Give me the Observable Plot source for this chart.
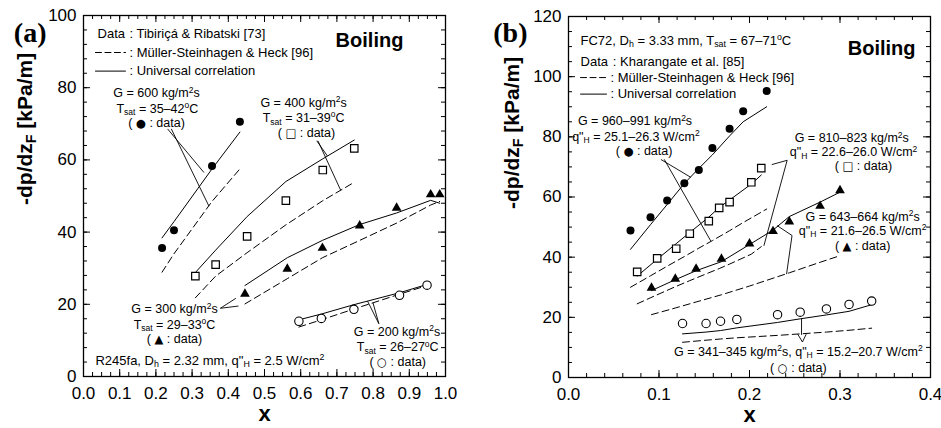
<!DOCTYPE html>
<html>
<head>
<meta charset="utf-8">
<script src="https://cdn.jsdelivr.net/npm/d3@7"></script>
<script src="https://cdn.jsdelivr.net/npm/@observablehq/plot@0.6"></script>
<style>
html,body{margin:0;padding:0;background:#fff;}
#wrap{display:flex;width:941px;height:428px;overflow:hidden;}
#wrap svg{flex:none;display:block;}
</style>
</head>
<body>
<div id="wrap"></div>
<script>
// ---------------- DATA: panel (a) R245fa ----------------
const A_ticksX = [0, 0.1, 0.2, 0.3, 0.4, 0.5, 0.6, 0.7, 0.8, 0.9, 1.0];
const A_ticksY = [0, 20, 40, 60, 80, 100];

const A_x600    = [0.217, 0.25, 0.355, 0.432];
const A_data600 = [35.6, 40.5, 58.3, 70.6];
const A_univ600 = [38.4, 42.9, 57.5, 67.7];
const A_msh600  = [28.9, 34.0, 48.5, 57.5];

const A_x400    = [0.309, 0.365, 0.452, 0.559, 0.661, 0.748];
const A_data400 = [27.8, 31.0, 38.8, 48.7, 57.2, 63.2];
const A_univ400 = [28.8, 35.0, 44.3, 54.0, 60.3, 65.5];
const A_msh400  = [21.8, 27.8, 34.3, 42.0, 48.7, 53.8];

const A_x300    = [0.446, 0.563, 0.66, 0.763, 0.865, 0.959, 0.984];
const A_data300 = [22.9, 29.8, 35.6, 41.8, 46.7, 50.4, 50.4];
const A_univ300 = [25.2, 32.9, 37.7, 42.1, 45.3, 48.8, 48.0];
const A_msh300  = [20.1, 27.1, 32.9, 37.7, 42.5, 47.5, 48.5];

const A_x200    = [0.595, 0.657, 0.747, 0.873, 0.949];
const A_data200 = [15.3, 16.1, 18.6, 22.5, 25.3];
const A_univ200 = [15.7, 17.3, 19.9, 23.2, 25.5];
const A_msh200  = [13.7, 15.7, 18.7, 22.8, 25.2];

const A_leaders = [
  [[0.233, 68.5], [0.332, 56.6]],
  [[0.243, 68.5], [0.346, 47.3]],
  [[0.645, 65.2], [0.673, 61.2]],
  [[0.648, 65.2], [0.71, 51.7]],
  [[0.42, 21.6], [0.378, 18.9], [0.427, 19.5]],
  [[0.785, 20.8], [0.816, 14.6], [0.80, 20.3]]
];

// ---------------- DATA: panel (b) FC72 ----------------
const B_ticksX = [0, 0.1, 0.2, 0.3, 0.4];
const B_ticksY = [0, 20, 40, 60, 80, 100, 120];

const B_x960    = [0.0685, 0.0906, 0.109, 0.128, 0.144, 0.159, 0.178, 0.193, 0.219];
const B_data960 = [48.9, 53.3, 58.8, 64.6, 69.0, 76.3, 82.7, 88.5, 95.2];
const B_univ960 = [42.6, 50.8, 57.5, 64.5, 69.5, 74.0, 80.3, 85.0, 90.0];
const B_msh960  = [30.0, 33.8, 37.0, 40.2, 43.0, 45.5, 48.8, 51.5, 56.0];

const B_x810    = [0.0759, 0.098, 0.119, 0.134, 0.155, 0.1665, 0.178, 0.202, 0.213];
const B_data810 = [35.1, 39.6, 42.8, 47.8, 52.0, 56.4, 58.3, 64.9, 69.6];
const B_univ810 = [33.7, 39.3, 44.5, 48.2, 53.3, 56.5, 59.0, 64.3, 67.3];
const B_msh810  = [24.5, 27.5, 30.3, 32.2, 34.8, 36.2, 37.7, 41.0, 43.5];

const B_x643    = [0.0917, 0.118, 0.141, 0.169, 0.20, 0.226, 0.244, 0.278, 0.30];
const B_data643 = [29.8, 32.8, 36.1, 39.4, 44.5, 48.6, 51.8, 57.0, 62.2];
const B_univ643 = [28.9, 32.5, 35.5, 38.5, 44.2, 49.0, 53.5, 58.3, 61.6];
const B_msh643  = [20.9, 23.1, 25.1, 27.5, 30.4, 33.0, 34.8, 38.3, 40.5];

const B_x341    = [0.126, 0.152, 0.168, 0.186, 0.231, 0.256, 0.285, 0.31, 0.335];
const B_data341 = [17.95, 17.95, 18.7, 19.3, 20.9, 21.7, 22.8, 24.3, 25.4];
const B_univ341 = [14.5, 15.1, 15.6, 16.5, 18.3, 19.5, 20.8, 22.0, 24.2];
const B_msh341  = [11.7, 12.4, 12.8, 13.2, 14.0, 14.5, 15.1, 15.7, 16.4];

const B_leaders = [
  [[0.1025, 72.4], [0.1348, 66.6]],
  [[0.106, 72.4], [0.157, 45.5]],
  [[0.225, 70.8], [0.2416, 72.2], [0.216, 43.9]],
  [[0.231, 50.4], [0.247, 47.2], [0.241, 34.5]],
  [[0.2575, 19.5], [0.2575, 14.3]],
  [[0.2535, 14.3], [0.2585, 11.8], [0.2625, 14.3]]
];

// ---------------- RENDERING ----------------
const FONT = "'Liberation Sans', Arial, Helvetica, sans-serif";
const SERIF = "'Liberation Serif', 'Times New Roman', serif";

const pts = (xs, ys, g) => xs.map((x, i) => ({x, y: ys[i], g}));
const polys = (arr) => arr.flatMap((pl, i) => pl.map(([x, y]) => ({x, y, i})));

function buildPanel(o) {
  const H = 428;
  const FW = o.width - o.mL - o.mR, FH = H - o.mT - o.mB;
  const maj = 7, mnr = 4;
  const xMinor = d3.range(o.xDom[0], o.xDom[1] + 1e-9, o.xMinorStep);
  const yMinor = d3.range(o.yDom[0], o.yDom[1] + 1e-9, o.yMinorStep);
  const marks = [
    Plot.ruleX(xMinor, {x: d => d, insetTop: FH - mnr, stroke: "black"}),
    Plot.ruleX(xMinor, {x: d => d, insetBottom: FH - mnr, stroke: "black"}),
    Plot.ruleX(o.xTicks, {x: d => d, insetTop: FH - maj, stroke: "black"}),
    Plot.ruleX(o.xTicks, {x: d => d, insetBottom: FH - maj, stroke: "black"}),
    Plot.ruleY(yMinor, {y: d => d, insetRight: FW - mnr, stroke: "black"}),
    Plot.ruleY(yMinor, {y: d => d, insetLeft: FW - mnr, stroke: "black"}),
    Plot.ruleY(o.yTicks, {y: d => d, insetRight: FW - maj, stroke: "black"}),
    Plot.ruleY(o.yTicks, {y: d => d, insetLeft: FW - maj, stroke: "black"}),
    Plot.axisX({ticks: o.xTicks, tickFormat: d3.format(".1f"), tickSize: 0, tickPadding: 10, fontSize: 17, label: null}),
    Plot.axisY({ticks: o.yTicks, tickFormat: d => String(d), tickSize: 0, tickPadding: 7, fontSize: 17, label: null}),
    // correlation lines
    Plot.line(o.msh, {x: "x", y: "y", z: "g", stroke: "black", strokeWidth: 1, strokeDasharray: "7,4"}),
    Plot.line(o.univ, {x: "x", y: "y", z: "g", stroke: "black", strokeWidth: 1}),
    // leader lines
    Plot.line(polys(o.leaders), {x: "x", y: "y", z: "i", stroke: "black", strokeWidth: 0.9}),
    // legend samples
    Plot.line(o.legDash, {x: d => d[0], y: d => d[1], stroke: "black", strokeWidth: 1, strokeDasharray: "6,3.5"}),
    Plot.line(o.legSolid, {x: d => d[0], y: d => d[1], stroke: "black", strokeWidth: 1}),
    // data markers
    Plot.dot(o.dots[0], {x: "x", y: "y", r: 4, symbol: "circle", fill: "black"}),
    Plot.dot(o.dots[1], {x: "x", y: "y", r: 4.2, symbol: "square", fill: "white", stroke: "black", strokeWidth: 1.2}),
    Plot.dot(o.dots[2], {x: "x", y: "y", r: 3.6, symbol: "triangle", fill: "black"}),
    Plot.dot(o.dots[3], {x: "x", y: "y", r: 4.2, symbol: "circle", fill: "white", stroke: "black", strokeWidth: 1.1}),
    // texts
    Plot.text(o.annMid, {x: "x", y: "y", text: "t", fontSize: 12.5, textAnchor: "middle", fill: "black"}),
    Plot.text(o.annStart, {x: "x", y: "y", text: "t", fontSize: 13, textAnchor: "start", fill: "black"}),
    Plot.text([o.boiling], {x: "x", y: "y", text: "t", fontSize: 20, fontWeight: "bold", fill: "black"}),
    Plot.text([o.ylabel], {frameAnchor: "left", dx: o.ylabDx, dy: o.ylabDy, rotate: -90, text: d => d, fontSize: 21, fontWeight: "bold", fill: "black"}),
    Plot.text(["x"], {frameAnchor: "bottom", dy: 44, text: d => d, fontSize: 22, fontWeight: "bold", fill: "black"}),
    Plot.text([o.tag], {frameAnchor: "top-left", dx: o.tagDx, dy: o.tagDy, text: d => d, fontSize: 28, fontWeight: "bold", fontFamily: SERIF, fill: "black", textAnchor: "end"}),
    Plot.frame({stroke: "black", strokeWidth: 1.3})
  ];
  return Plot.plot({
    width: o.width, height: H,
    marginLeft: o.mL, marginRight: o.mR, marginTop: o.mT, marginBottom: o.mB,
    x: {type: "linear", domain: o.xDom},
    y: {type: "linear", domain: o.yDom},
    style: {fontFamily: FONT, color: "black", background: "white", overflow: "visible"},
    marks
  });
}

const svgA = buildPanel({
  width: 470, mL: 83, mR: 25, mT: 15, mB: 52,
  xDom: [0, 1], yDom: [0, 100], xTicks: A_ticksX, yTicks: A_ticksY, xMinorStep: 0.025, yMinorStep: 4,
  msh: [...pts(A_x600, A_msh600, 1), ...pts(A_x400, A_msh400, 2), ...pts(A_x300, A_msh300, 3), ...pts(A_x200, A_msh200, 4)],
  univ: [...pts(A_x600, A_univ600, 1), ...pts(A_x400, A_univ400, 2), ...pts(A_x300, A_univ300, 3), ...pts(A_x200, A_univ200, 4)],
  dots: [pts(A_x600, A_data600, 1), pts(A_x400, A_data400, 2), pts(A_x300, A_data300, 3), pts(A_x200, A_data200, 4)],
  leaders: A_leaders,
  legDash: [[0.033, 89.75], [0.116, 89.75]],
  legSolid: [[0.033, 84.6], [0.116, 84.6]],
  annMid: [
    {t: "G = 600 kg/m^{2}s", x: 0.2017, y: 78.4},
    {t: "T_{sat} = 35–42^{o}C", x: 0.204, y: 74.2},
    {t: "( {s:●} : data)", x: 0.2017, y: 70.1},
    {t: "G = 400 kg/m^{2}s", x: 0.608, y: 75.9},
    {t: "T_{sat} = 31–39^{o}C", x: 0.608, y: 71.6},
    {t: "( {s:□} : data)", x: 0.616, y: 67.4},
    {t: "G = 300 kg/m^{2}s", x: 0.2514, y: 18.6},
    {t: "T_{sat} = 29–33^{o}C", x: 0.2514, y: 14.4},
    {t: "( {s:▲} : data)", x: 0.2514, y: 10.3},
    {t: "G = 200 kg/m^{2}s", x: 0.866, y: 12.3},
    {t: "T_{sat} = 26–27^{o}C", x: 0.868, y: 8.1},
    {t: "( {s:○} : data)", x: 0.868, y: 4.0}
  ],
  annStart: [
    {t: "R245fa, D_{h} = 2.32 mm, q\"_{H} = 2.5 W/cm^{2}", x: 0.033, y: 4.4},
    {t: "Data", x: 0.0387, y: 95.0},
    {t: ": Tibiriçá & Ribatski [73]", x: 0.127, y: 95.0},
    {t: ": Müller-Steinhagen & Heck [96]", x: 0.127, y: 89.75},
    {t: ": Universal correlation", x: 0.127, y: 84.8}
  ],
  boiling: {t: "Boiling", x: 0.79, y: 93.1},
  ylabel: "-dp/dz_{F} [kPa/m]", ylabDx: -58, ylabDy: 9,
  tag: "(a)", tagDx: -37, tagDy: 7
});

const svgB = buildPanel({
  width: 471, mL: 98, mR: 11, mT: 16, mB: 51,
  xDom: [0, 0.4], yDom: [0, 120], xTicks: B_ticksX, yTicks: B_ticksY, xMinorStep: 0.02, yMinorStep: 5,
  msh: [...pts(B_x960, B_msh960, 1), ...pts(B_x810, B_msh810, 2), ...pts(B_x643, B_msh643, 3), ...pts(B_x341, B_msh341, 4)],
  univ: [...pts(B_x960, B_univ960, 1), ...pts(B_x810, B_univ810, 2), ...pts(B_x643, B_univ643, 3), ...pts(B_x341, B_univ341, 4)],
  dots: [pts(B_x960, B_data960, 1), pts(B_x810, B_data810, 2), pts(B_x643, B_data643, 3), pts(B_x341, B_data341, 4)],
  leaders: B_leaders,
  legDash: [[0.0133, 99.7], [0.042, 99.7]],
  legSolid: [[0.0133, 94.2], [0.042, 94.2]],
  annMid: [
    {t: "G = 960–991 kg/m^{2}s", x: 0.0735, y: 85.1},
    {t: "q\"_{H} = 25.1–26.3 W/cm^{2}", x: 0.0745, y: 80.1},
    {t: "( {s:●} : data)", x: 0.0835, y: 75.3},
    {t: "G = 810–823 kg/m^{2}s", x: 0.313, y: 79.5},
    {t: "q\"_{H} = 22.6–26.0 W/cm^{2}", x: 0.315, y: 74.8},
    {t: "( {s:□} : data)", x: 0.326, y: 70.3},
    {t: "G = 643–664 kg/m^{2}s", x: 0.325, y: 53.5},
    {t: "q\"_{H} = 21.6–26.5 W/cm^{2}", x: 0.325, y: 48.7},
    {t: "( {s:▲} : data)", x: 0.325, y: 43.7},
    {t: "G = 341–345 kg/m^{2}s, q\"_{H} = 15.2–20.7 W/cm^{2}", x: 0.254, y: 8.6},
    {t: "( {s:○} : data)", x: 0.254, y: 3.3}
  ],
  annStart: [
    {t: "FC72, D_{h} = 3.33 mm, T_{sat} = 67–71^{o}C", x: 0.0133, y: 112.0},
    {t: "Data", x: 0.0133, y: 105.0},
    {t: ": Kharangate et al. [85]", x: 0.049, y: 105.0},
    {t: ": Müller-Steinhagen & Heck [96]", x: 0.0464, y: 99.7},
    {t: ": Universal correlation", x: 0.0464, y: 94.4}
  ],
  boiling: {t: "Boiling", x: 0.346, y: 109.4},
  ylabel: "-dp/dz_{F} [kPa/m]", ylabDx: -56, ylabDy: 12,
  tag: "(b)", tagDx: -41, tagDy: 6
});

const wrap = document.getElementById("wrap");
wrap.appendChild(svgA);
wrap.appendChild(svgB);

// turn _{..}, ^{..} and {s:..} markup into real sub/superscript / symbol tspans
function richify(svg) {
  const NS = "http://www.w3.org/2000/svg";
  svg.querySelectorAll("text").forEach(el => {
    const s = el.textContent;
    if (!/([_^]\{|\{s:)/.test(s)) return;
    const fs = parseFloat(getComputedStyle(el).fontSize) || 13;
    const parts = s.split(/([_^]\{[^}]*\}|\{s:[^}]*\})/);
    while (el.firstChild) el.removeChild(el.firstChild);
    let shift = 0;
    for (const p of parts) {
      if (!p) continue;
      const m = p.match(/^([_^])\{([^}]*)\}$/);
      const sm = p.match(/^\{s:([^}]*)\}$/);
      const t = document.createElementNS(NS, "tspan");
      let target = 0;
      if (m) {
        t.textContent = m[2];
        t.setAttribute("font-size", (0.68 * fs).toFixed(2));
        target = m[1] === "_" ? 0.2 * fs : -0.38 * fs;
      } else if (sm) {
        t.textContent = sm[1];
        t.setAttribute("font-family", "'DejaVu Sans', sans-serif");
        t.setAttribute("font-size", (0.92 * fs).toFixed(2));
      } else {
        t.textContent = p;
      }
      if (target !== shift) t.setAttribute("dy", (target - shift).toFixed(2));
      shift = target;
      el.appendChild(t);
    }
  });
}
richify(svgA);
richify(svgB);
</script>
</body>
</html>
